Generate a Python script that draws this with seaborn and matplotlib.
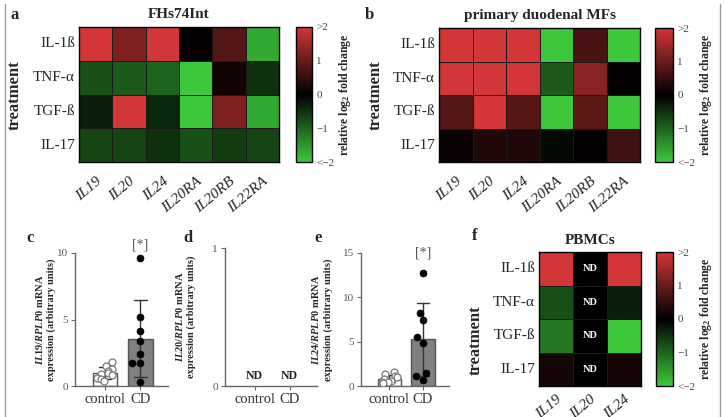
import numpy as np
import pandas as pd
import matplotlib
matplotlib.use("Agg")
import matplotlib.pyplot as plt
import seaborn as sns
from matplotlib.colors import LinearSegmentedColormap
from matplotlib.lines import Line2D

# -----------------------------
# Data
# -----------------------------
treatments = ["IL-1ß", "TNF-α", "TGF-ß", "IL-17"]
genes = ["IL19", "IL20", "IL24", "IL20RA", "IL20RB", "IL22RA"]
genes_pbmc = ["IL19", "IL20", "IL24"]

# relative log2 fold change (clipped at +/-2)
fhs_values = [
    [2.0, 1.2, 2.0, 0.05, 0.8, -1.7],
    [-0.8, -0.9, -1.0, -2.0, 0.15, -0.5],
    [-0.3, 2.0, -0.4, -2.0, 1.2, -1.7],
    [-0.7, -0.7, -0.5, -0.8, -0.6, -0.7],
]
mf_values = [
    [2.0, 2.0, 2.0, -2.0, 0.7, -2.0],
    [2.0, 2.0, 2.0, -0.9, 1.3, 0.05],
    [0.8, 2.0, 0.8, -2.0, 0.9, -2.0],
    [0.1, 0.3, 0.3, -0.1, 0.05, 0.6],
]
pbmc_values = [
    [2.0, np.nan, 2.0],
    [-0.8, np.nan, -0.3],
    [-1.2, np.nan, -2.0],
    [0.2, np.nan, 0.2],
]

groups = ["control", "CD"]
il19_control = [1.8, 1.5, 1.3, 1.1, 1.0, 0.9, 0.8, 0.6, 0.5, 0.4]
il19_cd = [9.6, 5.2, 4.1, 3.4, 2.4, 1.7, 1.7, 0.3]
il24_control = [1.6, 1.3, 1.1, 1.0, 0.8, 0.6, 0.5, 0.4, 0.3]
il24_cd = [12.7, 8.2, 7.4, 5.5, 4.9, 1.5, 1.1, 0.7]

# -----------------------------
# Style
# -----------------------------
sns.set_theme(style="white")
plt.rcParams["font.family"] = ["Liberation Serif", "DejaVu Serif"]
plt.rcParams["mathtext.fontset"] = "custom"
plt.rcParams["mathtext.rm"] = "Liberation Serif:bold"
plt.rcParams["mathtext.it"] = "Liberation Serif:italic:bold"
plt.rcParams["mathtext.bf"] = "Liberation Serif:bold"

cmap = LinearSegmentedColormap.from_list("gkr", ["#3cc83a", "#000000", "#d33636"])

W, H = 724, 417
fig = plt.figure(figsize=(W / 100, H / 100), dpi=100)
np.random.seed(4)  # jitter of the control dots only


def rect(x0, y0, x1, y1):
    # pixel box (top-left origin) -> figure fraction
    return [x0 / W, 1 - y1 / H, (x1 - x0) / W, (y1 - y0) / H]


def ftext(x, y, s, **kw):
    fig.text(x / W, 1 - y / H, s, ha="center", va="center", **kw)


# -----------------------------
# Heatmaps
# -----------------------------
def draw_heat(values, cols, box, cbox, title, title_xy, xpad=9):
    ax = fig.add_axes(rect(*box))
    cax = fig.add_axes(rect(*cbox))
    df = pd.DataFrame(values, index=treatments, columns=cols)
    annot = np.where(df.isna().values, "ND", "")
    sns.heatmap(
        df.fillna(0), ax=ax, cbar_ax=cax, cmap=cmap, vmin=-2, vmax=2,
        linewidths=0.5, linecolor="#1a1a1a",
        annot=annot, fmt="",
        annot_kws={"color": "white", "fontweight": "bold", "fontsize": 7.5},
    )
    for sp in ax.spines.values():
        sp.set_visible(True)
        sp.set_color("black")
        sp.set_linewidth(1)
    ax.tick_params(axis="y", length=0, labelsize=11, pad=3)
    ax.tick_params(axis="x", length=0, labelsize=11, pad=xpad)
    ax.set_yticklabels(treatments, rotation=0)
    ax.set_xticklabels(cols, rotation=40, ha="right", rotation_mode="anchor",
                       fontstyle="italic")
    ax.set_xlabel("")
    ax.set_ylabel("")

    cax.set_yticks([-2, -1, 0, 1, 2])
    cax.set_yticklabels(["<−2", "−1", "0", "1", ">2"])
    cax.tick_params(axis="y", direction="in", length=3, width=0.8,
                    color="#222222", labelsize=8, labelcolor="#444444", pad=3)
    cbar = ax.collections[0].colorbar
    cbar.outline.set_visible(True)
    cbar.outline.set_edgecolor("black")
    cbar.outline.set_linewidth(1)
    cax.set_ylabel("relative log$_2$ fold change", fontsize=8.5,
                   fontweight="bold", labelpad=2)
    ftext(*title_xy, title, fontsize=11, fontweight="bold")


draw_heat(fhs_values, genes, (79, 27, 279, 162), (296, 27, 312, 162),
          "FHs74Int", (179, 15))
draw_heat(mf_values, genes, (439, 28, 640, 162), (655, 28, 673, 162),
          "primary duodenal MFs", (540, 15))
draw_heat(pbmc_values, genes_pbmc, (539, 252, 641, 386), (656, 252, 673, 386),
          "PBMCs", (590, 240), xpad=5)


# -----------------------------
# Bar charts
# -----------------------------
def style_bar_axis(ax, ymax, yticks, ylabel, label_x):
    ax.set_xlim(-0.85, 1.78)
    ax.set_ylim(0, ymax)
    ax.set_yticks(yticks)
    ax.set_xticks([0, 1])
    ax.set_xticklabels(groups)
    sns.despine(ax=ax)
    for side in ["left", "bottom"]:
        ax.spines[side].set_color("#666666")
        ax.spines[side].set_linewidth(1)
    ax.tick_params(axis="y", length=3, width=0.8, color="#666666",
                   labelsize=8, labelcolor="#555555", pad=2, left=True)
    ax.tick_params(axis="x", length=3, width=0.8, color="#666666",
                   labelsize=10.5, labelcolor="#333333", pad=2, bottom=True)
    ax.set_xlabel("")
    ax.set_ylabel(ylabel, fontsize=7.5, fontweight="bold", linespacing=1.3)
    ax.yaxis.set_label_coords(label_x, 0.5)


def draw_bars(ax, ctrl, cd):
    df = pd.DataFrame({
        "group": ["control"] * len(ctrl) + ["CD"] * len(cd),
        "value": ctrl + cd,
    })
    sns.barplot(data=df, x="group", y="value", hue="group", order=groups,
                hue_order=groups, palette={"control": "white", "CD": "#808080"},
                errorbar="sd", capsize=0.35, width=0.7, edgecolor="#555555",
                linewidth=1, err_kws={"color": "#333333", "linewidth": 1},
                legend=False, ax=ax)
    sns.stripplot(data=df[df.group == "control"], x="group", y="value",
                  order=groups, color="white", edgecolor="#777777",
                  linewidth=0.9, size=5, jitter=0.22, ax=ax)
    sns.swarmplot(data=df[df.group == "CD"], x="group", y="value",
                  order=groups, color="black", edgecolor="black",
                  linewidth=0.5, size=5, ax=ax)


ax_c = fig.add_axes(rect(75, 253, 168, 386))
draw_bars(ax_c, il19_control, il19_cd)
style_bar_axis(ax_c, 10, [0, 5, 10],
               "$\\mathit{IL19/RPLP0}$ mRNA\nexpression (arbitrary units)", -0.2)
ax_c.annotate("[*]", xy=(1, 1.06), xycoords=("data", "axes fraction"),
              ha="center", va="center", fontsize=10, color="#555555",
              annotation_clip=False)

ax_d = fig.add_axes(rect(225, 248, 317, 386))
style_bar_axis(ax_d, 1, [0, 1],
               "$\\mathit{IL20/RPLP0}$ mRNA\nexpression (arbitrary units)", -0.31)
for i in range(2):
    ax_d.text(i, 0.07, "ND", ha="center", va="center", fontsize=8.5,
              fontweight="bold", color="#222222")

ax_e = fig.add_axes(rect(361, 253, 449, 386))
draw_bars(ax_e, il24_control, il24_cd)
style_bar_axis(ax_e, 15, [0, 5, 10, 15],
               "$\\mathit{IL24/RPLP0}$ mRNA\nexpression (arbitrary units)", -0.32)
ax_e.annotate("[*]", xy=(1, 1.0), xycoords=("data", "axes fraction"),
              ha="center", va="center", fontsize=10, color="#555555",
              annotation_clip=False)

# -----------------------------
# Panel letters, axis titles, frame
# -----------------------------
for letter, x, y in [("a", 15, 15), ("b", 369, 15), ("c", 30, 238),
                     ("d", 188, 238), ("e", 318, 238), ("f", 475, 236)]:
    ftext(x, y, letter, fontsize=12, fontweight="bold")

for x, y in [(15, 95), (376, 95), (476, 340)]:
    ftext(x, y, "treatment", fontsize=12, fontweight="bold", rotation=90)

for x in [5, 720]:
    fig.add_artist(Line2D([x / W, x / W], [0, 0.99], color="#999999", lw=1))

fig.savefig("out.png", dpi=100)
